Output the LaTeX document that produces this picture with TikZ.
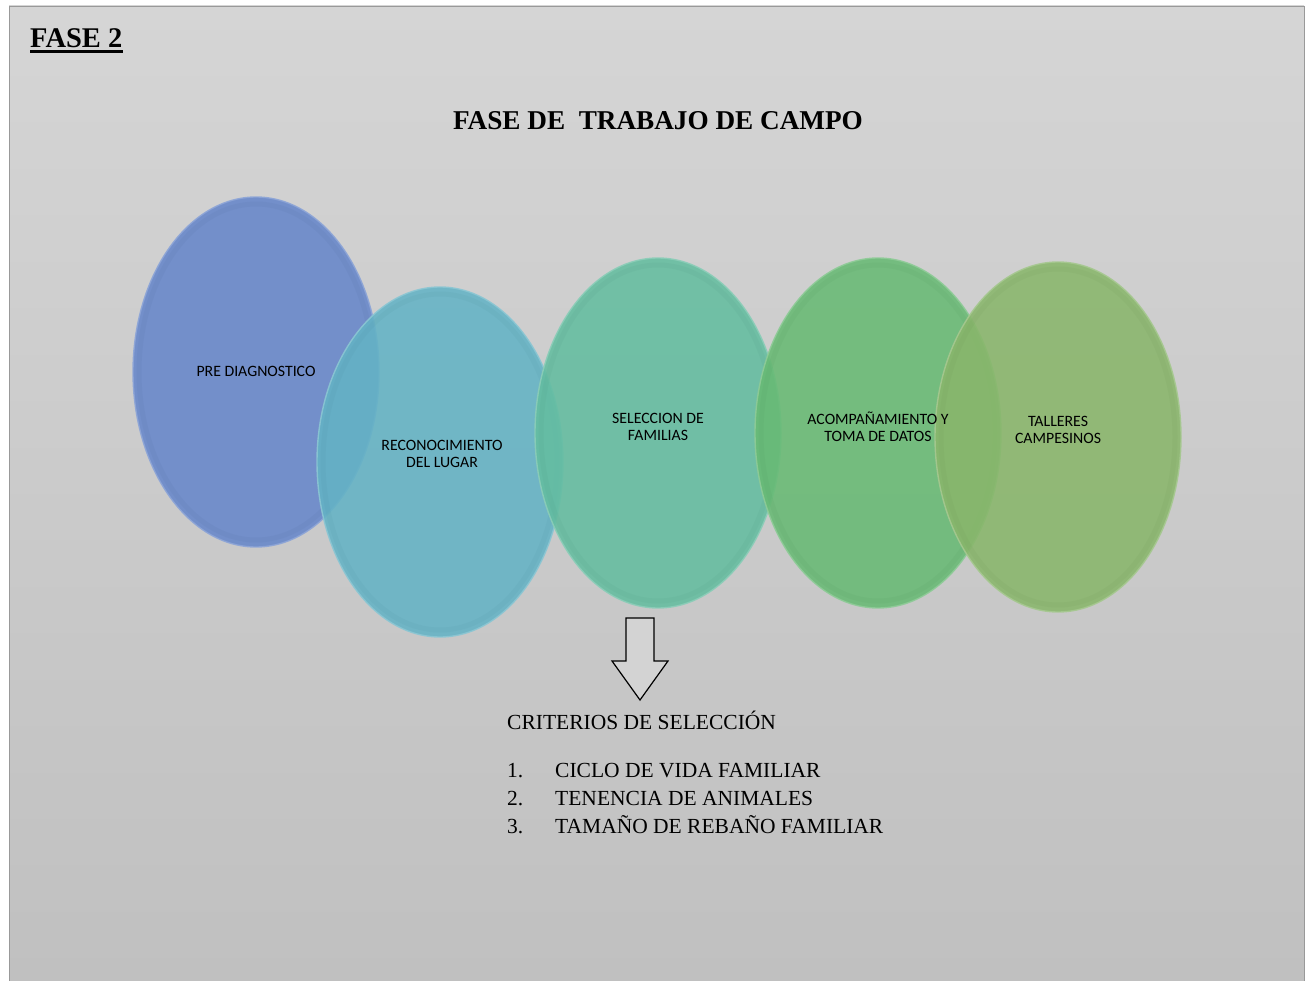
\documentclass[tikz,border=0pt]{standalone}
\usepackage{fontspec}
\setmainfont{Liberation Serif}
\newfontfamily\calfont{Carlito}
\usetikzlibrary{shapes.geometric}
\definecolor{bgtop}{HTML}{D5D5D5}
\definecolor{bgbot}{HTML}{C0C0C0}
\definecolor{cA}{HTML}{6787CA}
\definecolor{cB}{HTML}{64B3C5}
\definecolor{cC}{HTML}{64BDA0}
\definecolor{cD}{HTML}{68BA74}
\definecolor{cE}{HTML}{89B66B}
\tikzset{
  bubble/.style={ellipse, minimum width=246pt, minimum height=350pt, inner sep=0pt,
    fill=#1, fill opacity=0.88, draw=#1!75!white, line width=1.4pt, draw opacity=0.9},
  inring/.style={ellipse, minimum width=234pt, minimum height=336pt, inner sep=0pt,
    draw=#1!80!black, draw opacity=0.10, line width=5pt},
  bubtext/.style={font=\calfont\fontsize{15.8}{17}\selectfont, align=center, inner sep=0pt, text=black},
  listtext/.style={font=\fontsize{21.5}{25}\selectfont, anchor=base west, inner sep=0pt},
}
\begin{document}
\begin{tikzpicture}[x=1pt,y=-1pt]
\useasboundingbox (0,0) rectangle (1311,981);
\shade[top color=bgtop, bottom color=bgbot] (9,6) rectangle (1304,981);
\draw[color=black!40, line width=0.8pt] (9,981) -- (9,6) -- (1304,6) -- (1304,981);

\node[anchor=base west, inner sep=0pt, font=\bfseries\fontsize{28.5}{30}\selectfont] (fase) at (30,48) {FASE 2};
\draw[line width=2.4pt] ([yshift=-3.5pt]fase.base west) -- ([yshift=-3.5pt]fase.base east);

\node[anchor=base, inner sep=0pt, font=\bfseries\fontsize{27.2}{30}\selectfont] (title) at (658,130) {FASE DE\ \ TRABAJO DE CAMPO};

\node[bubble=cA] (e1) at (256,372) {};
\node[inring=cA] (r1) at (256,372) {};
\node[bubble=cB] (e2) at (440,462) {};
\node[inring=cB] (r2) at (440,462) {};
\node[bubble=cC] (e3) at (658,433) {};
\node[inring=cC] (r3) at (658,433) {};
\node[bubble=cD] (e4) at (878,433) {};
\node[inring=cD] (r4) at (878,433) {};
\node[bubble=cE] (e5) at (1058,437) {};
\node[inring=cE] (r5) at (1058,437) {};

\node[bubtext] (t1) at (256,371) {PRE DIAGNOSTICO};
\node[bubtext] (t2) at (442,454) {RECONOCIMIENTO\\DEL LUGAR};
\node[bubtext] (t3) at (658,427) {SELECCION DE\\FAMILIAS};
\node[bubtext] (t4) at (878,427) {ACOMPAÑAMIENTO Y\\TOMA DE DATOS};
\node[bubtext] (t5) at (1058,430) {TALLERES\\CAMPESINOS};

\draw[fill=bgtop!90!bgbot, line width=1.2pt, line join=miter]
  (626,618) -- (654,618) -- (654,661) -- (668,661) -- (640,700) -- (612,661) -- (626,661) -- cycle;

\node[listtext] (crit) at (507,729) {CRITERIOS DE SELECCIÓN};
\node[listtext] (n1) at (507,777) {1.};
\node[listtext] (l1) at (555,777) {CICLO DE VIDA FAMILIAR};
\node[listtext] (n2) at (507,805) {2.};
\node[listtext] (l2) at (555,805) {TENENCIA DE ANIMALES};
\node[listtext] (n3) at (507,833) {3.};
\node[listtext] (l3) at (555,833) {TAMAÑO DE REBAÑO FAMILIAR};
\end{tikzpicture}
\end{document}
